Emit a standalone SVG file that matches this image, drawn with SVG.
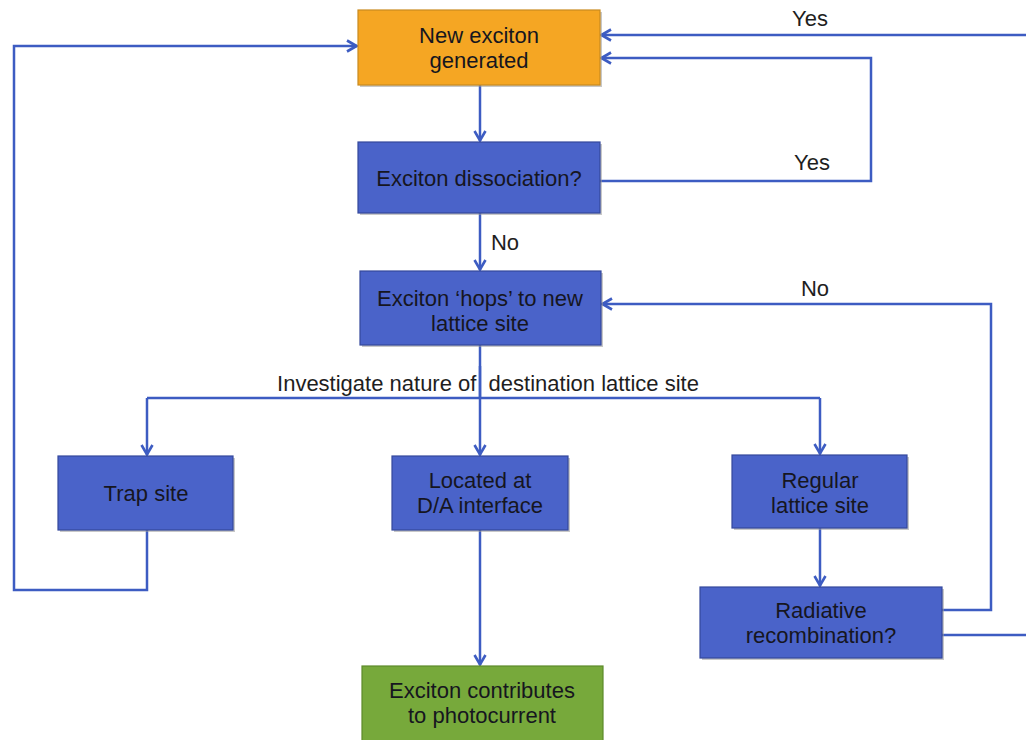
<svg xmlns="http://www.w3.org/2000/svg" width="1026" height="740" viewBox="0 0 1026 740">
<style>
.box{stroke:#34489c;stroke-width:1.2}
.blue{fill:#4a63c9}
.orange{fill:#f5a623;stroke:#c98a1e}
.green{fill:#77a93b;stroke:#5d8a2a}
.shadow{fill:#9a9a9a;opacity:0.55}
.t{font-family:"Liberation Sans",Arial,sans-serif;font-size:22px;fill:#16161f;text-anchor:middle}
.lbl{font-family:"Liberation Sans",Arial,sans-serif;font-size:22px;fill:#1e1e1e;text-anchor:middle}
.c{fill:none;stroke:#3d5cc2;stroke-width:2.5;stroke-linejoin:miter}
</style>
<defs>
<marker id="ah" viewBox="0 0 14 14" refX="13" refY="7" markerWidth="14" markerHeight="14" markerUnits="userSpaceOnUse" orient="auto">
<path d="M3,1.5 L12.5,7 L3,12.5" fill="none" stroke="#3d5cc2" stroke-width="2.6"/>
</marker>
</defs>
<rect width="1026" height="740" fill="#ffffff"/>

<g id="connectors">
<path class="c" d="M480,85 V141" marker-end="url(#ah)"/>
<path class="c" d="M480,213 V270" marker-end="url(#ah)"/>
<path class="c" d="M600,181 H871 V58 H601" marker-end="url(#ah)"/>
<path class="c" d="M1026,35 H601" marker-end="url(#ah)"/>
<path class="c" d="M942,610 H991 V304 H602" marker-end="url(#ah)"/>
<path class="c" d="M942,635 H1026"/>
<path class="c" d="M480,345 V455" marker-end="url(#ah)"/>
<path class="c" d="M147,398 H820"/>
<path class="c" d="M147,398 V455" marker-end="url(#ah)"/>
<path class="c" d="M820,398 V454" marker-end="url(#ah)"/>
<path class="c" d="M820,528 V586" marker-end="url(#ah)"/>
<path class="c" d="M480,530 V665" marker-end="url(#ah)"/>
<path class="c" d="M147,530 V590 H14 V46 H357" marker-end="url(#ah)"/>
<text class="lbl" x="810" y="26">Yes</text>
<text class="lbl" x="812" y="170">Yes</text>
<text class="lbl" x="505" y="250">No</text>
<text class="lbl" x="815" y="296">No</text>
<text class="lbl" x="488" y="391" xml:space="preserve">Investigate nature of  destination lattice site</text>
<path class="c" d="M480,366 V398"/>
</g>

<g id="n1">
<rect class="shadow" x="360" y="12" width="242" height="75"/>
<rect class="orange" x="358" y="10" width="242" height="75" stroke-width="1.2"/>
<text class="t" x="479" y="43">New exciton</text>
<text class="t" x="479" y="68">generated</text>
</g>
<g id="n2">
<rect class="shadow" x="360" y="144" width="242" height="71"/>
<rect class="box blue" x="358" y="142" width="242" height="71"/>
<text class="t" x="479" y="186">Exciton dissociation?</text>
</g>
<g id="n3">
<rect class="shadow" x="362" y="273" width="241" height="74"/>
<rect class="box blue" x="360" y="271" width="241" height="74"/>
<text class="t" x="480" y="306">Exciton ‘hops’ to new</text>
<text class="t" x="480" y="331">lattice site</text>
</g>
<g id="n4">
<rect class="shadow" x="60" y="458" width="175" height="74"/>
<rect class="box blue" x="58" y="456" width="175" height="74"/>
<text class="t" x="146" y="501">Trap site</text>
</g>
<g id="n5">
<rect class="shadow" x="394" y="458" width="176" height="74"/>
<rect class="box blue" x="392" y="456" width="176" height="74"/>
<text class="t" x="480" y="488">Located at</text>
<text class="t" x="480" y="513">D/A interface</text>
</g>
<g id="n6">
<rect class="shadow" x="734" y="457" width="175" height="73"/>
<rect class="box blue" x="732" y="455" width="175" height="73"/>
<text class="t" x="820" y="488">Regular</text>
<text class="t" x="820" y="513">lattice site</text>
</g>
<g id="n7">
<rect class="shadow" x="702" y="589" width="242" height="71"/>
<rect class="box blue" x="700" y="587" width="242" height="71"/>
<text class="t" x="821" y="618">Radiative</text>
<text class="t" x="821" y="643">recombination?</text>
</g>
<g id="n8">
<rect class="green" x="362" y="666" width="241" height="80" stroke-width="1.2"/>
<text class="t" x="482" y="698">Exciton contributes</text>
<text class="t" x="482" y="723">to photocurrent</text>
</g>
</svg>
